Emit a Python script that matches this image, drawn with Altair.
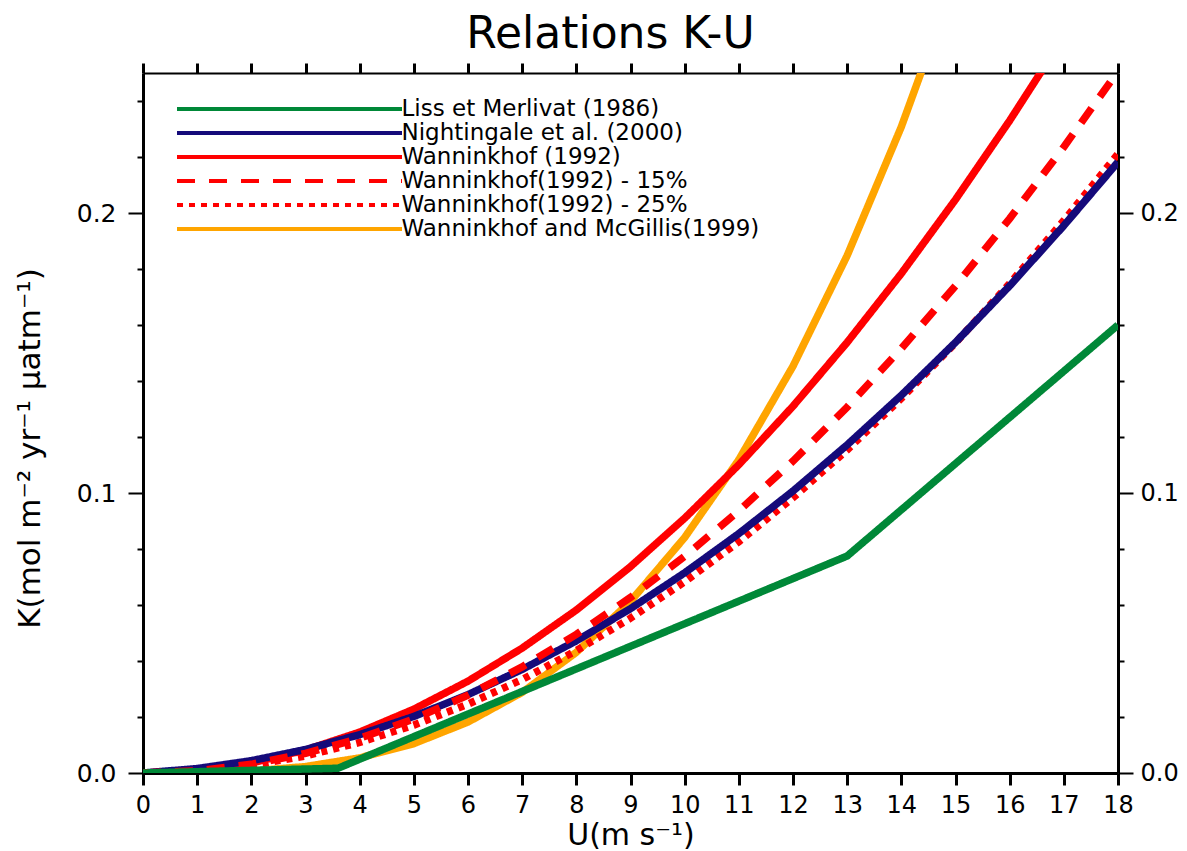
import altair as alt
import pandas as pd

# ---- data ----
SERIES = [
    "Liss et Merlivat (1986)",
    "Nightingale et al. (2000)",
    "Wanninkhof (1992)",
    "Wanninkhof(1992) - 15%",
    "Wanninkhof(1992) - 25%",
    "Wanninkhof and McGillis(1999)",
]
COLORS = ["#008838", "#150a7a", "#ff0000", "#ff0000", "#ff0000", "#ffa500"]
DASHES = [[1, 0], [1, 0], [1, 0], [18, 14], [6, 6], [1, 0]]

U_INT = list(range(19))
liss_u = [0, 3.6, 13, 18]
liss_k = [0.0, 0.0017, 0.0775, 0.160]
night_k = [0.0, 0.0016, 0.0044, 0.0084, 0.0137, 0.0202, 0.0280, 0.0370, 0.0472, 0.0587,
           0.0715, 0.0855, 0.1007, 0.1172, 0.1349, 0.1538, 0.1740, 0.1955, 0.2182]
w92_k = [0.0, 0.0009, 0.0036, 0.0082, 0.0146, 0.0228, 0.0328, 0.0446, 0.0582, 0.0737,
         0.0910, 0.1101, 0.1310, 0.1538, 0.1784, 0.2048, 0.2330, 0.2630, 0.2950]
w92_15_k = [0.0, 0.0008, 0.0031, 0.0070, 0.0124, 0.0193, 0.0278, 0.0379, 0.0495, 0.0627,
            0.0774, 0.0936, 0.1114, 0.1307, 0.1516, 0.1740, 0.1980, 0.2236, 0.2506]
w92_25_k = [0.0, 0.0007, 0.0027, 0.0061, 0.0109, 0.0171, 0.0246, 0.0334, 0.0437, 0.0553,
            0.0683, 0.0826, 0.0983, 0.1154, 0.1338, 0.1536, 0.1748, 0.1973, 0.2211]
wm99_u = list(range(16))
wm99_k = [0.0, 0.0001, 0.0007, 0.0023, 0.0054, 0.0105, 0.0182, 0.0288, 0.0431, 0.0613,
          0.0841, 0.1119, 0.1453, 0.1848, 0.2308, 0.2839]

X_TICKS = list(range(19))
Y_TICKS = [round(i * 0.02, 2) for i in range(13)]

# draw order (bottom -> top)
rows = []
def add(name, us, ks):
    for u, k in zip(us, ks):
        rows.append({"series": name, "U": u, "K": k})

add(SERIES[5], wm99_u, wm99_k)
add(SERIES[2], U_INT, w92_k)
add(SERIES[4], U_INT, w92_25_k)
add(SERIES[1], U_INT, night_k)
add(SERIES[3], U_INT, w92_15_k)
add(SERIES[0], liss_u, liss_k)
df = pd.DataFrame(rows)

FONT = "DejaVu Sans"
MAJOR = "abs(datum.value*10 - round(datum.value*10)) < 0.001"

xs = alt.Scale(domain=[0, 18], nice=False, zero=False)
ys = alt.Scale(domain=[0, 0.25], nice=False)

lines = alt.Chart(df).mark_line(strokeWidth=7.5, clip=True).encode(
    x=alt.X("U:Q", scale=xs,
            axis=alt.Axis(orient="bottom", values=X_TICKS, title="U(m s⁻¹)",
                          tickSize=12, tickWidth=3, domainWidth=3, labelPadding=8,
                          labelFontSize=24, labelFont=FONT, titleFont=FONT,
                          titleFontSize=30, titleFontWeight="normal", titlePadding=3,
                          grid=False, labelFlush=False, tickColor="black",
                          domainColor="black", labelColor="black", titleColor="black")),
    y=alt.Y("K:Q", scale=ys,
            axis=alt.Axis(orient="left", values=Y_TICKS, format=".1f",
                          labelExpr=MAJOR + " ? format(datum.value, '.1f') : ''",
                          tickSize={"condition": {"test": MAJOR, "value": 15}, "value": 6},
                          tickWidth=2, domainWidth=3, labelPadding=12,
                          labelFontSize=25, labelFont=FONT, titleFont=FONT,
                          title="K(mol m⁻² yr⁻¹ μatm⁻¹)", titleFontSize=31,
                          titleFontWeight="normal", titlePadding=30, titleY=375,
                          grid=False, labelFlush=False, tickColor="black",
                          domainColor="black", labelColor="black", titleColor="black")),
    color=alt.Color("series:N",
                    scale=alt.Scale(domain=SERIES, range=COLORS),
                    legend=alt.Legend(orient="none", legendX=134.5, legendY=24,
                                      title=None, symbolType="M-11.25,0H11.25",
                                      symbolSize=400, symbolStrokeWidth=4,
                                      labelFont=FONT, labelFontSize=23,
                                      labelColor="black", labelOffset=100,
                                      rowPadding=0, labelLimit=600, padding=0)),
    strokeDash=alt.StrokeDash("series:N",
                              scale=alt.Scale(domain=SERIES, range=DASHES),
                              legend=None),
    detail="series:N",
)

frame = alt.Chart(df).mark_line(opacity=0, clip=True).encode(
    x=alt.X("U:Q", scale=xs,
            axis=alt.Axis(orient="top", values=X_TICKS, labels=False, title=None,
                          tickSize=10, tickWidth=3, domainWidth=2, grid=False,
                          tickColor="black", domainColor="black")),
    y=alt.Y("K:Q", scale=ys,
            axis=alt.Axis(orient="right", values=Y_TICKS, format=".1f",
                          labelExpr=MAJOR + " ? format(datum.value, '.1f') : ''",
                          tickSize={"condition": {"test": MAJOR, "value": 15}, "value": 6},
                          tickWidth=2, domainWidth=3, labelPadding=7,
                          labelFontSize=24, labelFont=FONT, title=None, grid=False,
                          labelFlush=False, tickColor="black", domainColor="black",
                          labelColor="black")),
)

chart = alt.layer(frame, lines).resolve_axis(x="independent", y="independent").properties(
    width=975, height=700,
    title=alt.TitleParams("Relations K-U", fontSize=44, font=FONT, fontWeight="normal",
                          anchor="middle", frame="group", offset=5, dx=-20,
                          color="black"),
    autosize=alt.AutoSizeParams(type="none"),
    padding={"left": 135, "top": 65, "right": 60, "bottom": 78},
).configure_view(stroke=None).configure(background="white")

chart.save("out.html", embed_options={"renderer": "svg", "actions": False})
